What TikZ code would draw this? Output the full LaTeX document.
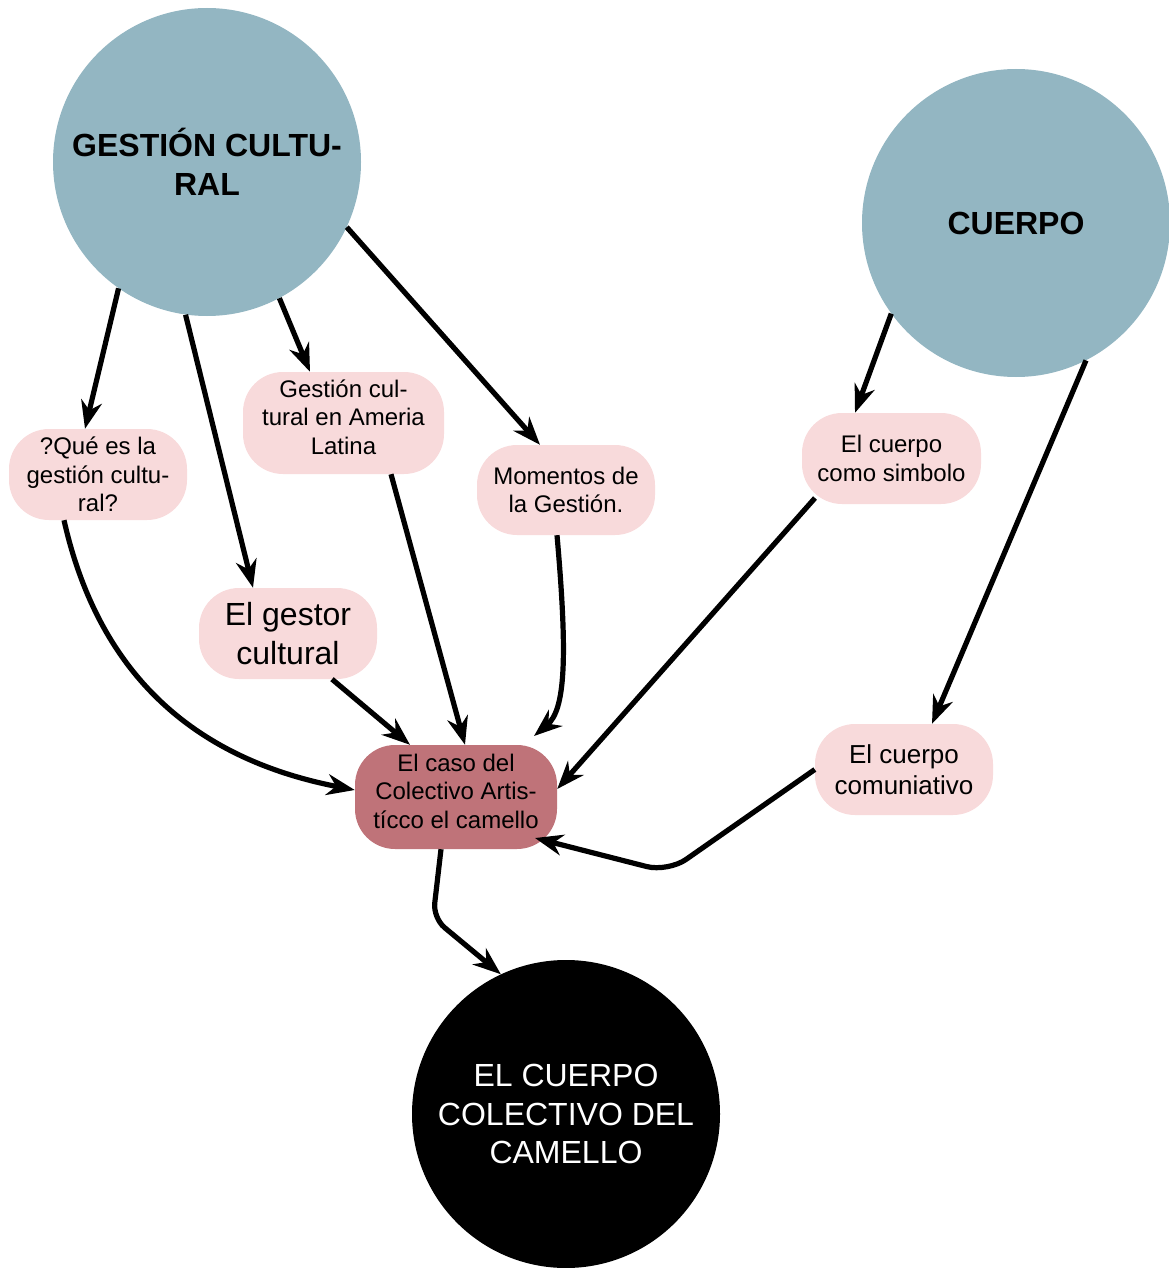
\documentclass[tikz,border=0pt]{standalone}
\usepackage{fontspec}
\setmainfont{Liberation Sans}
\usetikzlibrary{arrows.meta}
\definecolor{circblue}{HTML}{93B6C2}
\definecolor{pinkbox}{HTML}{F8DADB}
\definecolor{casofill}{HTML}{BF7379}
\begin{document}
\begin{tikzpicture}[x=1pt,y=-1pt,
  bigcirc/.style={circle, fill=circblue, minimum size=308pt, inner sep=0pt, align=center, font=\bfseries\fontsize{32}{39}\selectfont},
  subbox/.style={rectangle, rounded corners=40pt, fill=pinkbox, inner sep=0pt, align=center, font=\fontsize{24}{28.5}\selectfont},
  boxtext/.style={inner sep=0pt, align=center, font=\fontsize{24}{28.5}\selectfont},
  conn/.style={line width=5.2pt, -{Stealth[length=28pt,width=21pt,inset=9pt]}},
]
\useasboundingbox (0,0) rectangle (1168,1268);
\node[bigcirc] (gc) at (207,162) {GESTIÓN CULTU-\\RAL};
\node[bigcirc] (cu) at (1016,223) {CUERPO};
\node[circle, fill=black, minimum size=308pt, inner sep=0pt, text=white, align=center, font=\fontsize{32}{38.4}\selectfont] (ecc) at (566,1114) {EL CUERPO\\COLECTIVO DEL\\CAMELLO};
\node[subbox, minimum width=178pt, minimum height=91pt] (q) at (98,474.5) {?Qué es la\\gestión cultu-\\ral?};
\node[subbox, minimum width=201pt, minimum height=102pt] (gal) at (343.5,423) {};
\node[boxtext] (galt) at ([yshift=6pt]gal.center) {Gestión cul-\\tural en Ameria\\Latina};
\node[subbox, minimum width=178pt, minimum height=90pt] (mom) at (566,490) {Momentos de\\la Gestión.};
\node[subbox, minimum width=178pt, minimum height=91pt, font=\fontsize{32}{39}\selectfont] (ges) at (288,633.5) {El gestor\\cultural};
\node[subbox, fill=casofill, minimum width=202pt, minimum height=104pt] (caso) at (456,797) {};
\node[boxtext] (casot) at ([yshift=6pt]caso.center) {El caso del\\Colectivo Artis-\\tícco el camello};
\node[subbox, minimum width=179pt, minimum height=91pt] (sim) at (891.5,458.5) {El cuerpo\\como simbolo};
\node[subbox, minimum width=178pt, minimum height=91pt, font=\fontsize{26}{31}\selectfont] (com) at (904,769.5) {El cuerpo\\comuniativo};
\coordinate (w1) at (668,872);
\coordinate (w2) at (433,918);
\draw[conn] (gc.235.6) -- ([xshift=-13pt]q.north);
\draw[conn] (gc.262) -- ([xshift=-35pt]ges.north);
\draw[conn] (gc.298) -- ([xshift=-33.5pt]gal.north);
\draw[conn] (gc.335.6) -- ([xshift=-26pt]mom.north);
\draw[conn] ([xshift=-34pt]q.south) .. controls (100,680) and (200,760) .. ([yshift=7pt]caso.west);
\draw[conn] ([xshift=44pt]ges.south) -- ([xshift=-46pt]caso.north);
\draw[conn] ([xshift=47.5pt]gal.south) -- ([xshift=9pt]caso.north);
\draw[conn] ([xshift=-9pt]mom.south) .. controls (568,660) and (565,710) .. ([xshift=78pt,yshift=61pt]caso.center);
\draw[conn] (cu.216) -- ([xshift=-36.5pt]sim.north);
\draw[conn] (cu.297) -- ([xshift=28pt]com.north);
\draw[conn] ([xshift=-76.5pt,yshift=-39.5pt]sim.center) -- ([yshift=8pt]caso.east);
\draw[conn, rounded corners=22pt] (com.west) -- (w1) -- ([xshift=79pt,yshift=-41pt]caso.center);
\draw[conn, rounded corners=15pt] ([xshift=-15pt]caso.south) -- (w2) -- (ecc.115.4);
\end{tikzpicture}
\end{document}
